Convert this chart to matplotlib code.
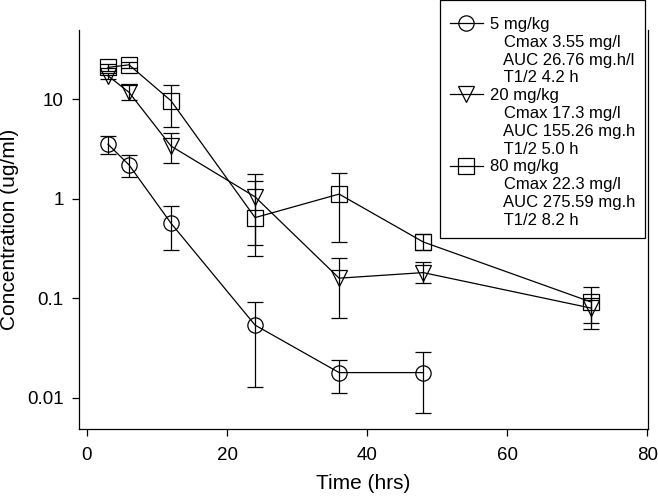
import matplotlib.pyplot as plt
from matplotlib.lines import Line2D

plt.rcParams['font.family'] = ['Liberation Sans', 'DejaVu Sans']

# Sampling times (hrs)
time_5 = [3, 6, 12, 24, 36, 48]
time_20 = [3, 6, 12, 24, 36, 48, 72]
time_80 = [3, 6, 12, 24, 36, 48, 72]

# Mean concentration (ug/ml) with lower / upper error bar ends
conc_5 = [3.55, 2.2, 0.57, 0.054, 0.018, 0.018]
low_5 = [2.85, 1.65, 0.31, 0.013, 0.0111, 0.0070]
high_5 = [4.3, 2.75, 0.85, 0.093, 0.024, 0.029]

conc_20 = [17.3, 11.8, 3.4, 1.05, 0.16, 0.182, 0.08]
low_20 = [16.0, 9.9, 2.3, 0.345, 0.064, 0.144, 0.049]
high_20 = [18.5, 14.0, 4.6, 1.5, 0.255, 0.231, 0.10]

conc_80 = [21.0, 22.3, 9.7, 0.65, 1.12, 0.37, 0.092]
low_80 = [19.5, 20.5, 5.3, 0.267, 0.37, 0.31, 0.057]
high_80 = [22.5, 24.0, 14.0, 1.78, 1.83, 0.44, 0.13]

groups = ['5 mg/kg', '20 mg/kg', '80 mg/kg']
details = [
    ['Cmax 3.55 mg/l', 'AUC 26.76 mg.h/l', 'T1/2 4.2 h'],
    ['Cmax 17.3 mg/l', 'AUC 155.26 mg.h', 'T1/2 5.0 h'],
    ['Cmax 22.3 mg/l', 'AUC 275.59 mg.h', 'T1/2 8.2 h'],
]

fig = plt.figure(figsize=(6.58, 4.97), dpi=100)
ax = fig.add_axes([79 / 658, 1 - 429 / 497, 569 / 658, 399 / 497])

series = [
    (time_5, conc_5, low_5, high_5, 'o'),
    (time_20, conc_20, low_20, high_20, 'v'),
    (time_80, conc_80, low_80, high_80, 's'),
]
handles = []
for t, c, lo, hi, m in series:
    yerr = [[ci - li for ci, li in zip(c, lo)], [hi_ - ci for ci, hi_ in zip(c, hi)]]
    ax.errorbar(t, c, yerr=yerr, color='black', marker=m, mfc='none', mec='black',
                ms=11, lw=0.9, elinewidth=0.9, capsize=6, capthick=0.9, mew=0.9)
    handles.append(Line2D([], [], color='black', marker=m, mfc='none', ms=11,
                          lw=0.9, mew=0.9))

ax.set_yscale('log')
ax.set_ylim(0.00488, 49.9)
ax.set_xlim(-1.14, 80.1)
ax.set_yticks([0.01, 0.1, 1, 10])
ax.set_yticklabels(['0.01', '0.1', '1', '10'])
ax.set_xticks([0, 20, 40, 60, 80])
ax.minorticks_off()
ax.tick_params(labelsize=13.5, width=0.9, length=5)
ax.tick_params(axis='y', pad=6)
ax.tick_params(axis='x', pad=8)
ax.spines['top'].set_visible(False)
for s in ['left', 'bottom', 'right']:
    ax.spines[s].set_linewidth(0.9)

ax.set_xlabel('Time (hrs)', fontsize=15, labelpad=7)
ax.set_ylabel('Concentration (ug/ml)', fontsize=15, labelpad=6)

# Legend: one marker entry per dose, followed by indented detail lines
blank = Line2D([], [], linestyle='none')
leg_handles = []
leg_labels = []
for h, g, d in zip(handles, groups, details):
    leg_handles.append(h)
    leg_labels.append(g)
    for line in d:
        leg_handles.append(blank)
        leg_labels.append('   ' + line)

# a tiny blank title gives the extra space above the first entry
leg = fig.legend(leg_handles, leg_labels, loc='upper right',
                 bbox_to_anchor=(645 / 658, 1.0), borderaxespad=0,
                 fontsize=12, frameon=True, fancybox=False, framealpha=1,
                 edgecolor='black', labelspacing=0.17, handlelength=2.0,
                 handletextpad=0.4, borderpad=0.6, title=' ', title_fontsize=2)
leg.get_frame().set_linewidth(0.9)

fig.savefig('out.png', dpi=100)
